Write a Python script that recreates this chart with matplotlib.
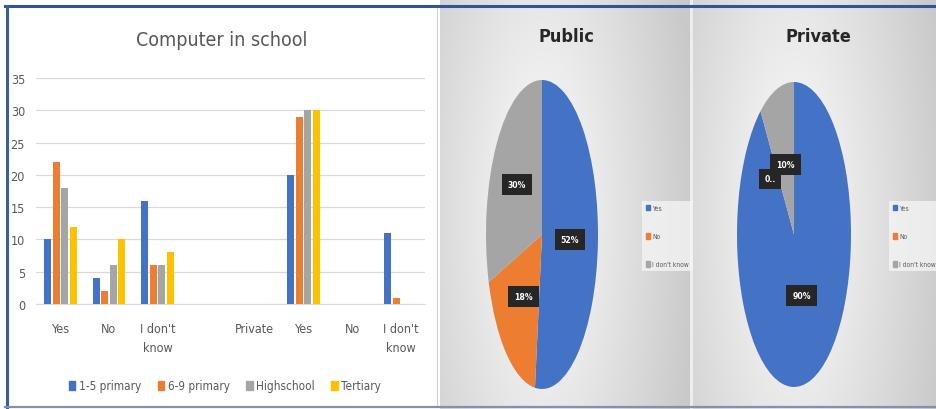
import numpy as np
import matplotlib
matplotlib.use("Agg")
import matplotlib.pyplot as plt
from matplotlib import font_manager
from matplotlib.lines import Line2D
from matplotlib.patches import Patch

# ---------------- data ----------------
categories = ["Yes", "No", "I don't\nknow", "", "Private", "Yes", "No", "I don't\nknow"]
series_names = ["1-5 primary", "6-9 primary", "Highschool", "Tertiary"]
primary_1_5 = [10, 4, 16, 0, 0, 20, 0, 11]
primary_6_9 = [22, 2, 6, 0, 0, 29, 0, 1]
highschool = [18, 6, 6, 0, 0, 30, 0, 0]
tertiary = [12, 10, 8, 0, 0, 30, 0, 0]
y_ticks = [0, 5, 10, 15, 20, 25, 30, 35]

pie_labels = ["Yes", "No", "I don't know"]
public_share = [52, 18, 30]
private_share = [90, 0, 10]

bar_colors = ["#4472c4", "#ed7d31", "#a5a5a5", "#ffc000"]
pie_colors = ["#4472c4", "#ed7d31", "#a5a5a5"]

# ---------------- fonts ----------------
installed = {f.name for f in font_manager.fontManager.ttflist}
narrow = "Liberation Sans Narrow" if "Liberation Sans Narrow" in installed else "DejaVu Sans"
plt.rcParams["font.family"] = [narrow, "DejaVu Sans"]
plt.rcParams["font.stretch"] = "condensed"
text_grey = "#595959"

W, H = 936, 410
fig = plt.figure(figsize=(W / 100, H / 100), dpi=100)


def px_box(x0, y0, x1, y1):
    """Figure-fraction rectangle from pixel corners (y measured from top)."""
    return [x0 / W, 1 - y1 / H, (x1 - x0) / W, (y1 - y0) / H]


# ---------------- background ----------------
bg = np.ones((H, W, 3))
yy, xx = np.mgrid[0:H, 0:W]
for x_lo, x_hi, cx in [(440, 691, 542), (692, W, 794)]:
    d = np.sqrt(((xx - cx) / 115.0) ** 2 + ((yy - 215) / 380.0) ** 2)
    v = np.clip(0.99 - 0.15 * d, 0.79, 0.99)
    m = (xx >= x_lo) & (xx < x_hi)
    for c in range(3):
        bg[..., c][m] = v[m]
strip = (xx >= 690) & (xx < 693)
bg[strip] = 0.93
ax_bg = fig.add_axes([0, 0, 1, 1], zorder=-10)
ax_bg.imshow(bg, extent=(0, W, H, 0), aspect="auto", interpolation="bilinear")
ax_bg.set_xlim(0, W)
ax_bg.set_ylim(H, 0)
ax_bg.axis("off")

# panel frame lines
ax_bg.add_line(Line2D([5, W], [7, 7], color="#2f5597", lw=2.2))
ax_bg.add_line(Line2D([7, 7], [7, 408], color="#3b5f96", lw=2.2))
ax_bg.add_line(Line2D([5, W], [408, 408], color="#8193ab", lw=1.6))
ax_bg.add_line(Line2D([437, 437], [9, 406], color="#d0d0d0", lw=0.8))

# ---------------- grouped bar chart ----------------
ax = fig.add_axes(px_box(36, 79, 425, 305))
x = np.arange(len(categories))
pitch, width = 0.175, 0.145
for k, (vals, name, col) in enumerate(zip([primary_1_5, primary_6_9, highschool, tertiary],
                                          series_names, bar_colors)):
    ax.bar(x + (k - 1.5) * pitch, vals, width, color=col, label=name, zorder=3)

ax.set_xlim(-0.5, len(categories) - 0.5)
ax.set_ylim(0, 35)
ax.set_yticks(y_ticks)
ax.set_xticks(x)
ax.set_xticklabels(categories, linespacing=1.55)
ax.tick_params(axis="both", length=0, colors=text_grey, labelsize=9)
ax.tick_params(axis="x", pad=13)
ax.tick_params(axis="y", pad=8)
ax.grid(axis="y", color="#d9d9d9", lw=0.9, zorder=0)
for s in ["top", "right", "left"]:
    ax.spines[s].set_visible(False)
ax.spines["bottom"].set_color("#d9d9d9")
ax.set_facecolor("none")

fig.text(222 / W, 1 - 41 / H, "Computer in school", ha="center", va="center",
         fontsize=14, color=text_grey)

handles = [Patch(color=c) for c in bar_colors]
fig.legend(handles, series_names, loc="center", bbox_to_anchor=(225 / W, 1 - 387 / H),
           ncol=4, frameon=False, fontsize=8.5, labelcolor=text_grey,
           handlelength=0.55, handleheight=0.75, handletextpad=0.3, columnspacing=1.4)


# ---------------- pies ----------------
def draw_pie(box, shares, title, title_xy, legend_xy, label_text, radii):
    pax = fig.add_axes(box)
    wedges, _ = pax.pie(shares, colors=pie_colors, startangle=90, counterclock=False,
                        radius=1.0, wedgeprops=dict(linewidth=0))
    pax.set_aspect("auto")
    pax.set_xlim(-1, 1)
    pax.set_ylim(-1, 1)
    pax.axis("off")
    for w, txt, r in zip(wedges, label_text, radii):
        if txt is None:
            continue
        mid = np.deg2rad((w.theta1 + w.theta2) / 2)
        pax.text(r * np.cos(mid), r * np.sin(mid), txt, ha="center", va="center",
                 color="white", fontsize=6.2, fontweight="bold", zorder=5,
                 bbox=dict(boxstyle="square,pad=0.7", fc="#262626", ec="none"))
    fig.text(title_xy[0] / W, 1 - title_xy[1] / H, title, ha="center", va="center",
             fontsize=13, fontweight="bold", color="#262626")
    lh = [Patch(color=c) for c in pie_colors]
    leg = fig.legend(lh, pie_labels, loc="center left",
                     bbox_to_anchor=(legend_xy[0] / W, 1 - legend_xy[1] / H),
                     frameon=True, fontsize=4.8, labelcolor=text_grey,
                     handlelength=0.6, handleheight=0.9, handletextpad=0.3,
                     labelspacing=3.3, borderpad=0.6, borderaxespad=0, fancybox=False)
    leg.get_frame().set_facecolor("#f6f6f6")
    leg.get_frame().set_edgecolor("none")
    leg.get_frame().set_alpha(0.75)
    return pax, wedges


draw_pie(px_box(486, 81, 598, 390), public_share, "Public", (566, 37), (642, 237),
         ["52%", "18%", "30%"], [0.5, 0.52, 0.55])
pax2, w2 = draw_pie(px_box(737, 83, 851, 388), private_share, "Private", (818, 37),
                    (889, 237), ["90%", None, "10%"], [0.42, 0.5, 0.48])
# zero-share slice label sits just left of the 10% label
mid0 = np.deg2rad(w2[1].theta1)
pax2.text(0.5 * np.cos(mid0) - 0.13, 0.5 * np.sin(mid0) - 0.04, "0..", ha="center",
          va="center", color="white", fontsize=6.2, fontweight="bold", zorder=4,
          bbox=dict(boxstyle="square,pad=0.6", fc="#262626", ec="none"))

fig.savefig("out.png", dpi=100)
